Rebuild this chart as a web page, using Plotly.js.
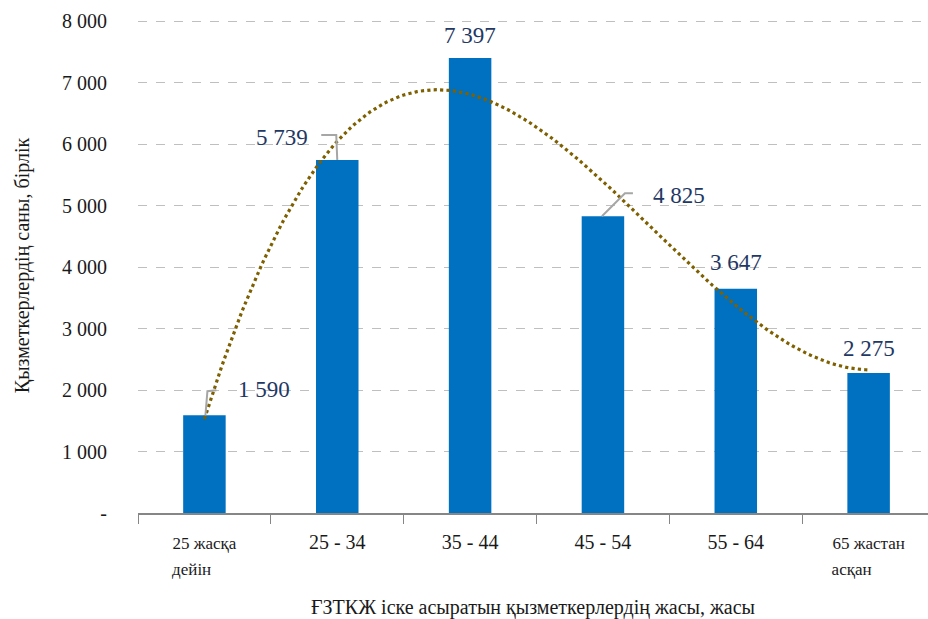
<!DOCTYPE html>
<html>
<head>
<meta charset="utf-8">
<script src="https://cdn.plot.ly/plotly-3.0.1.min.js"></script>
<style>html,body{margin:0;padding:0;background:#fff;}#chart{width:928px;height:619px;}</style>
</head>
<body>
<div id="chart"></div>
<script>
// ---- data ----
const categories = ["25 жасқа дейін", "25 - 34", "35 - 44", "45 - 54", "55 - 64", "65 жастан асқан"];
const categoryLabels = ["25 жасқа|дейін", "25 - 34", "35 - 44", "45 - 54", "55 - 64", "65 жастан|асқан"];
const employees = [1590, 5739, 7397, 4825, 3647, 2275];
const yTickValues = [0, 1000, 2000, 3000, 4000, 5000, 6000, 7000, 8000];
const yTickLabels = ["-", "1 000", "2 000", "3 000", "4 000", "5 000", "6 000", "7 000", "8 000"];
const yTitle = "Қызметкерлердің саны, бірлік";
const xTitle = "ҒЗТКЖ іске асыратын қызметкерлердің жасы, жасы";

// ---- helpers ----
const FONT = 'Liberation Serif, Times New Roman, DejaVu Serif, serif';
function fmt(v){ return String(Math.round(v)).replace(/\B(?=(\d{3})+(?!\d))/g, ' '); }
// two-line labels: smaller font, second line padded so both lines start at the same x
function tickText(s){
  if (s.indexOf('|') < 0) return s;
  const parts = s.split('|');
  const pad = '\u00A0'.repeat(Math.max(0, Math.round((parts[0].length - parts[1].length) * 1.9)));
  return '<span style="font-size:17px">' + parts[0] + '</span><br><span style="font-size:17px">' + parts[1] + pad + '</span>';
}
// cubic polynomial least-squares trend (as Excel's polynomial trendline, order 3)
function polyFit(xs, ys, deg){
  const n = deg + 1;
  const A = Array.from({length:n}, () => new Array(n + 1).fill(0));
  for (let r = 0; r < n; r++){
    for (let c = 0; c < n; c++) A[r][c] = xs.reduce((s, x) => s + Math.pow(x, r + c), 0);
    A[r][n] = xs.reduce((s, x, i) => s + ys[i] * Math.pow(x, r), 0);
  }
  for (let i = 0; i < n; i++){
    let p = i; for (let k = i + 1; k < n; k++) if (Math.abs(A[k][i]) > Math.abs(A[p][i])) p = k;
    [A[i], A[p]] = [A[p], A[i]];
    for (let k = 0; k < n; k++){ if (k === i) continue; const f = A[k][i] / A[i][i]; for (let c = i; c <= n; c++) A[k][c] -= f * A[i][c]; }
  }
  return A.map((row, i) => row[n] / row[i]);
}
const idx = employees.map((_, i) => i);
const coef = polyFit(idx, employees, 3);
const trendX = [], trendY = [];
for (let k = 0; k <= 200; k++){
  const x = (idx.length - 1) * k / 200;
  trendX.push(x);
  trendY.push(coef.reduce((s, c, p) => s + c * Math.pow(x, p), 0));
}

// label offsets (pixels) relative to bar tops and leader-line paths (pixels)
const labelShift = [[60, 26], [-55, 23], [0, 23], [76, 21], [0, 26], [0, 25]];
const leaderPaths = {
  0: 'M 1 0 L 3 24 L 12 25',
  1: 'M 0 0 L -1 25 L -16 25',
  3: 'M -1 0 L 22 23 L 30 23'
};

const xRange = [-0.5, 5.447];
const traces = [
  {
    type: 'bar', x: categories, y: employees, width: 0.32,
    marker: {color: '#0070C0'}, hoverinfo: 'skip', xaxis: 'x', yaxis: 'y'
  },
  {
    type: 'scatter', mode: 'lines', x: trendX, y: trendY, xaxis: 'x2', yaxis: 'y',
    line: {color: '#7F6000', width: 3.2, dash: 'dot'}, hoverinfo: 'skip'
  }
];

const annotations = employees.map((v, i) => ({
  xref: 'x2', yref: 'y', x: i, y: v, text: fmt(v), showarrow: false,
  xshift: labelShift[i][0], yshift: labelShift[i][1], xanchor: 'center', yanchor: 'middle',
  font: {family: FONT, size: 23, color: '#1F3864'}
}));

const shapes = Object.keys(leaderPaths).map(k => ({
  type: 'path', xref: 'x2', yref: 'y', xsizemode: 'pixel', ysizemode: 'pixel',
  xanchor: +k, yanchor: employees[+k], path: leaderPaths[k],
  line: {color: '#A6A6A6', width: 2}, layer: 'above'
}));

const layout = {
  width: 928, height: 619,
  margin: {l: 138, r: 0, t: 18, b: 106},
  paper_bgcolor: '#ffffff', plot_bgcolor: '#ffffff',
  showlegend: false,
  font: {family: FONT, color: '#1a1a1a', size: 20},
  xaxis: {
    type: 'category', range: xRange, tickmode: 'array', tickvals: categories,
    ticktext: categoryLabels.map(tickText), tickson: 'boundaries',
    ticks: 'outside', ticklen: 9, tickcolor: '#868686', tickwidth: 1,
    ticklabelstandoff: 10,
    showline: true, linecolor: '#868686', linewidth: 1.5, showgrid: false,
    tickfont: {family: FONT, size: 20, color: '#1a1a1a'},
    title: {text: xTitle, font: {family: FONT, size: 20, color: '#1a1a1a'}, standoff: 24},
    fixedrange: true
  },
  xaxis2: {overlaying: 'x', range: xRange, visible: false, fixedrange: true},
  yaxis: {
    range: [0, 8049], tickmode: 'array', tickvals: yTickValues, ticktext: yTickLabels,
    showgrid: true, gridcolor: '#BFBFBF', griddash: 'dash', gridwidth: 1,
    zeroline: false, showline: false,
    ticks: 'outside', ticklen: 26, tickcolor: 'rgba(0,0,0,0)',
    tickfont: {family: FONT, size: 20, color: '#1a1a1a'},
    title: {text: yTitle, font: {family: FONT, size: 20, color: '#1a1a1a'}, standoff: 27},
    fixedrange: true
  },
  annotations: annotations,
  shapes: shapes
};

Plotly.newPlot('chart', traces, layout, {displayModeBar: false, staticPlot: true});
</script>
</body>
</html>
